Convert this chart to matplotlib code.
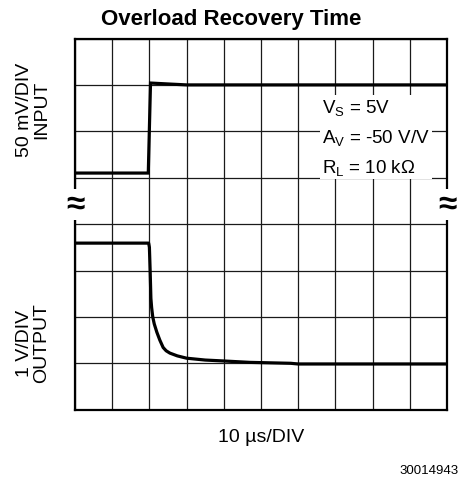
import numpy as np
import matplotlib
matplotlib.use('Agg')
import matplotlib.pyplot as plt

plt.rcParams['font.family'] = ['Liberation Sans', 'DejaVu Sans']
plt.rcParams['mathtext.fontset'] = 'custom'
plt.rcParams['mathtext.rm'] = 'Liberation Sans'
plt.rcParams['mathtext.default'] = 'regular'

# traces in divisions (10 x 8 screen)
input_t = [0, 1.97, 2.03, 2.5, 3.0, 10]
input_v = [5.1, 5.1, 7.04, 7.02, 7.0, 7.0]

output_t = [0, 1.98, 2.0, 2.02, 2.04, 2.06, 2.09, 2.13, 2.2, 2.28, 2.37, 2.45, 2.55,
            2.75, 3.0, 3.5, 4.0, 4.7, 5.8, 6.0, 10]
output_v = [3.59, 3.59, 3.5, 3.0, 2.4, 2.2, 2.0, 1.85, 1.67, 1.5, 1.34, 1.27, 1.22,
            1.16, 1.11, 1.07, 1.05, 1.02, 1.0, 0.985, 0.985]

conditions = ["V$_S$ = 5V", "A$_V$ = -50 V/V", "R$_L$ = 10 k\u03a9"]

W, H = 464, 481
fig = plt.figure(figsize=(W / 100, H / 100), dpi=100)

def px(x, y):
    return x / W, 1 - y / H

l, t = 75, 39.5
r, b = 447, 410.7
ax = fig.add_axes([l / W, 1 - b / H, (r - l) / W, (b - t) / H])

ax.set_xlim(0, 10)
ax.set_ylim(0, 8)
ax.set_xticks(np.arange(0, 11))
ax.set_yticks(np.arange(0, 9))
ax.tick_params(length=0, labelbottom=False, labelleft=False)
ax.grid(True, color='#1a1a1a', lw=0.9)
for s in ax.spines.values():
    s.set_linewidth(1.6)

ax.plot(input_t, input_v, color='k', lw=2.3, solid_joinstyle='miter', zorder=4)
ax.plot(output_t, output_v, color='k', lw=2.3, zorder=4)

# test conditions, white box over the grid
ax.text(6.64, 5.88, "\n".join(conditions), fontsize=13.5, ha='left', va='center',
        linespacing=1.65, zorder=3,
        bbox=dict(facecolor='white', edgecolor='none', boxstyle='square,pad=0.12'))

# break marks on both sides
for xb in [0.0, 10.0]:
    ax.text(xb, 4.43, "\u2248", fontsize=24, fontweight='bold', ha='center', va='center',
            clip_on=False, zorder=5,
            bbox=dict(facecolor='white', edgecolor='none', boxstyle='square,pad=0.0'))

fig.text(*px(231, 19), "Overload Recovery Time", fontsize=16, fontweight='bold',
         ha='center', va='center')
fig.text(*px(33, 110), "50 mV/DIV\nINPUT", fontsize=14, rotation=90,
         ha='center', va='center', multialignment='center', linespacing=1.0)
fig.text(*px(33, 343), "1 V/DIV\nOUTPUT", fontsize=14, rotation=90,
         ha='center', va='center', multialignment='center', linespacing=1.0)
fig.text(*px(261, 438), "10 \u00b5s/DIV", fontsize=14, ha='center', va='center')
fig.text(*px(459, 471), "30014943", fontsize=9.5, ha='right', va='center')

plt.savefig('out.png', dpi=100)
